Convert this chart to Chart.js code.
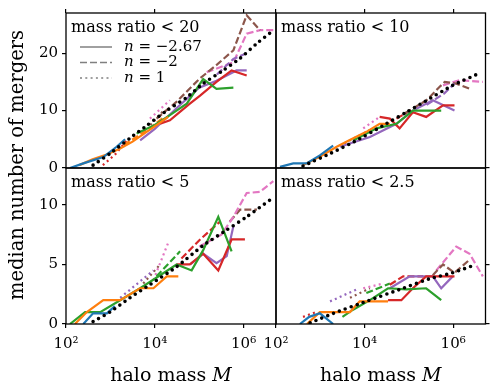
<!DOCTYPE html>
<html>
<head>
<meta charset="utf-8">
<script src="https://cdn.jsdelivr.net/npm/chart.js@4.4.0/dist/chart.umd.min.js"></script>
<style>
  body { margin: 0; background: #fff; }
  #wrap { position: relative; width: 498px; height: 389px; }
  #wrap canvas { position: absolute; left: 0; top: 0; }
</style>
</head>
<body>
<div id="wrap">
  <canvas id="c20" width="498" height="389"></canvas>
  <canvas id="c10" width="498" height="389"></canvas>
  <canvas id="c5" width="498" height="389"></canvas>
  <canvas id="c25" width="498" height="389"></canvas>
</div>
<script>
// points are [log10 halo mass, median number of mergers]

// mass ratio < 20
const r20Fit = [[2.61,0.5],[2.99,2.5],[3.44,5.2],[3.82,7.4],[4.27,10.0],[4.72,12.3],[5.09,14.7],[5.54,17.0],[5.92,19.1],[6.30,21.7],[6.66,23.9]];
const r20Blue = [[2.09,0],[2.39,0.8],[2.84,1.9],[3.14,3.7],[3.33,5.0]];
const r20Orange = [[2.3,0.5],[2.6,1.5],[2.9,2.3],[3.2,3.3],[3.5,4.6],[3.8,6.2],[4.1,7.8],[4.3,8.9]];
const r20Green = [[3.59,6.0],[4.0,7.5],[4.34,9.2],[4.72,11.2],[5.09,15.5],[5.39,13.8],[5.77,14.0]];
const r20Red = [[4.12,7.7],[4.34,8.3],[4.6,10.0],[4.79,11.2],[5.02,12.6],[5.39,15.0],[5.73,17.0],[6.07,16.1]];
const r20Purple = [[3.67,4.8],[4.0,6.8],[4.5,10.5],[5.0,14.0],[5.39,15.2],[5.84,17.0],[6.07,17.0]];
const r20PurpleDash = [[5.4,16.3],[5.77,19.0],[6.07,20.0]];
const r20BrownDash = [[4.04,8.6],[4.5,11.6],[5.0,15.5],[5.4,18.0],[5.77,20.5],[6.07,26.6],[6.37,24.0]];
const r20PinkDash = [[5.17,16.7],[5.77,18.4],[6.07,23.4],[6.37,24.0],[6.67,24.0]];
const r20OrangeDash = [[3.3,4.0],[3.9,7.0],[4.2,8.8]];
const r20PinkDot = [[3.89,8.6],[4.34,11.8]];
const r20RedDot = [[2.83,0.5],[3.1,2.3],[3.37,4.8]];
const r20BrownDot = [[3.9,7.5],[4.2,10.0]];

// mass ratio < 10
const r10Fit = [[2.61,0.35],[3.22,2.5],[3.82,4.8],[4.42,7.4],[4.94,9.7],[5.32,11.4],[5.99,14.4],[6.59,16.5]];
const r10Blue = [[2.09,0.2],[2.39,0.8],[2.69,0.8],[2.99,2.2],[3.29,3.9]];
const r10Orange = [[2.61,0.5],[3.0,2.0],[3.37,3.7],[3.7,5.0],[4.04,6.3],[4.34,7.7],[4.57,7.7]];
const r10Green = [[3.74,4.8],[4.27,6.9],[4.72,7.7],[5.09,10.0],[5.73,10.0]];
const r10Red = [[4.34,8.9],[4.57,8.6],[4.79,6.9],[5.09,9.7],[5.39,8.9],[5.77,10.9],[6.03,10.9]];
const r10Purple = [[3.44,3.7],[4.12,5.4],[4.72,7.7],[5.09,10.0],[5.54,11.8],[6.03,10.0]];
const r10PurpleDash = [[5.4,11.0],[5.8,13.0],[6.03,14.7]];
const r10BrownDash = [[4.9,9.5],[5.4,11.8],[5.69,14.1],[5.81,15.0],[6.07,14.7],[6.37,13.8]];
const r10PinkDash = [[5.77,14.4],[6.14,15.3],[6.67,15.0]];
const r10RedDash = [[4.72,8.6],[5.17,10.6]];
const r10BrownDot = [[3.44,3.9],[4.12,6.6]];
const r10PinkDot = [[3.97,6.9],[4.34,8.9]];

// mass ratio < 5
const r5Fit = [[2.61,0.2],[2.99,1.0],[3.44,2.2],[3.89,3.3],[4.49,4.8],[5.09,6.6],[5.62,7.9],[6.07,9.0],[6.59,10.4]];
const r5Blue = [[2.39,0],[2.61,0.9],[2.92,0.9],[3.1,1.5]];
const r5Orange = [[2.2,0],[2.47,1.0],[2.84,2.0],[3.22,2.0],[3.67,3.0],[3.97,3.0],[4.27,4.0],[4.53,4.0]];
const r5Green = [[2.09,0],[2.43,1.0],[2.77,1.0],[3.22,2.0],[3.67,3.0],[4.0,3.8],[4.49,5.0],[4.83,4.5],[5.09,6.2],[5.43,9.0],[5.73,6.1]];
const r5Red = [[4.49,5.0],[4.79,5.0],[5.09,5.9],[5.43,4.5],[5.73,7.1],[6.03,7.1]];
const r5Purple = [[4.8,5.0],[5.09,5.9],[5.39,5.1],[5.62,5.7],[5.77,8.2]];
const r5PinkDash = [[5.0,6.5],[5.5,7.5],[5.77,9.0],[6.07,11.0],[6.37,11.1],[6.67,12.0]];
const r5BrownDash = [[5.69,8.6],[5.92,9.6],[6.30,9.6]];
const r5GreenDash = [[4.04,4.0],[4.57,6.1]];
const r5RedDash = [[4.6,5.5],[5.02,7.1],[5.47,8.6]];
const r5PinkDot = [[3.97,3.7],[4.30,6.8]];
const r5PurpleDot = [[3.22,2.2],[3.97,4.5]];
const r5BrownDot = [[3.74,3.4],[4.12,5.0]];

// mass ratio < 2.5
const r25Fit = [[2.77,0.1],[3.37,1.0],[4.04,1.9],[4.87,3.0],[5.47,3.8],[5.99,4.3],[6.52,5.0]];
const r25Blue = [[2.54,0],[2.75,0.6],[2.99,0.9],[3.29,0]];
const r25Orange = [[2.7,0],[2.99,1.0],[3.67,1.0],[3.89,1.9],[4.53,1.9]];
const r25Green = [[3.5,0.6],[3.74,1.2],[4.12,2.0],[4.53,3.0],[4.94,2.9],[5.39,3.0],[5.73,2.0]];
const r25Red = [[4.53,2.0],[4.83,2.0],[5.09,3.0],[5.39,4.0],[6.03,4.0]];
const r25Purple = [[4.57,3.0],[5.02,4.0],[5.54,4.0],[5.73,3.0],[5.99,4.0]];
const r25RedDash = [[4.57,3.3],[4.87,4.0],[5.32,4.0]];
const r25BrownDash = [[5.54,4.1],[5.77,5.0],[6.03,4.3],[6.37,5.4]];
const r25PinkDash = [[5.62,4.5],[6.07,6.5],[6.37,5.9],[6.67,4.0]];
const r25GreenDash = [[4.04,2.6],[4.57,3.4]];
const r25PinkDot = [[3.97,3.0],[4.42,3.4]];
const r25PurpleDot = [[3.22,1.9],[3.82,2.9]];
const r25BrownDot = [[3.67,2.2],[4.12,3.0]];
const r25RedDot = [[2.61,0.6],[2.9,1.0]];

const xTickValues = [1e2, 1e4, 1e6];
const xTickLabels = ['10²', '10⁴', '10⁶'];
const yTicksTop = [0, 10, 20];
const yTicksBottom = [0, 5, 10];
const legendValues = ['−2.67', '−2', '1'];
const panelTitles = ['mass ratio < 20', 'mass ratio < 10', 'mass ratio < 5', 'mass ratio < 2.5'];

const FONT = 'DejaVu Serif';
const COLORS = {
    blue: '#1f77b4', orange: '#ff7f0e', green: '#2ca02c', red: '#d62728',
    purple: '#9467bd', brown: '#8c564b', pink: '#e377c2'
};
const DASH = { solid: [], dashed: [7, 3], dotted: [2, 3.3] };

function toPoints(arr) {
    return arr.map(p => ({ x: Math.pow(10, p[0]), y: p[1] }));
}

function makeDataset(arr, color, style) {
    if (color === 'fit') {
        return {
            data: toPoints(arr), borderColor: '#000', borderWidth: 3.6,
            borderDash: [0, 6.3], borderCapStyle: 'round',
            pointRadius: 0, tension: 0.2, fill: false
        };
    }
    return {
        data: toPoints(arr), borderColor: COLORS[color], borderWidth: 2.2,
        borderDash: DASH[style], pointRadius: 0, tension: 0, fill: false
    };
}

// draws frame, panel title, legend and axis titles
const decor = {
    id: 'decor',
    afterDraw(chart, args, opts) {
        const ctx = chart.ctx, a = chart.chartArea;
        ctx.save();
        ctx.strokeStyle = '#000';
        ctx.lineWidth = 1.3;
        ctx.setLineDash([]);
        ctx.strokeRect(a.left, a.top, a.right - a.left, a.bottom - a.top);

        ctx.fillStyle = '#000';
        ctx.textBaseline = 'alphabetic';
        ctx.textAlign = 'left';
        ctx.font = '16px "' + FONT + '"';
        ctx.fillText(opts.title, a.left + 5, a.top + 19);

        if (opts.legend) {
            const styles = ['solid', 'dashed', 'dotted'];
            styles.forEach((st, i) => {
                const y = a.top + 34 + i * 15.5;
                ctx.strokeStyle = '#808080';
                ctx.lineWidth = 1.5;
                ctx.setLineDash(DASH[st]);
                ctx.beginPath();
                ctx.moveTo(a.left + 14, y);
                ctx.lineTo(a.left + 46, y);
                ctx.stroke();
                ctx.textBaseline = 'middle';
                ctx.font = 'italic 15px "' + FONT + '"';
                ctx.fillText('n', a.left + 58, y);
                const w = ctx.measureText('n').width;
                ctx.font = '15px "' + FONT + '"';
                ctx.fillText(' = ' + legendValues[i], a.left + 58 + w, y);
            });
            ctx.setLineDash([]);
        }

        if (opts.xlabel) {
            ctx.textBaseline = 'alphabetic';
            ctx.font = '19px "' + FONT + '"';
            const w1 = ctx.measureText('halo mass ').width;
            ctx.font = 'italic 19px "' + FONT + '"';
            const w2 = ctx.measureText('M').width;
            const x0 = (a.left + a.right) / 2 - (w1 + w2) / 2;
            ctx.font = '19px "' + FONT + '"';
            ctx.fillText('halo mass ', x0, 381);
            ctx.font = 'italic 19px "' + FONT + '"';
            ctx.fillText('M', x0 + w1, 381);
        }

        if (opts.ylabel) {
            ctx.translate(18, 165);
            ctx.rotate(-Math.PI / 2);
            ctx.textAlign = 'center';
            ctx.textBaseline = 'middle';
            ctx.font = '19.5px "' + FONT + '"';
            ctx.fillText('median number of mergers', 0, 0);
        }
        ctx.restore();
    }
};

// scale boxes get fixed sizes so all four plot areas line up;
// labelled axes keep a real box because Chart.js clips labels to it
function makeChart(id, row, col, lines) {
    const yBox = col === 0 ? 66 : 0;
    const xBox = row === 1 ? 65 : 0;
    const pad = {
        left: col === 0 ? 0 : 276,
        right: col === 0 ? 222 : 12.5,
        top: row === 0 ? 13 : 168,
        bottom: row === 0 ? 221 : 0
    };
    const yTicks = row === 0 ? yTicksTop : yTicksBottom;
    return new Chart(document.getElementById(id), {
        type: 'line',
        data: { datasets: lines.map(l => makeDataset(l[0], l[1], l[2])) },
        options: {
            responsive: false,
            animation: false,
            layout: { padding: pad },
            plugins: {
                legend: { display: false },
                tooltip: { enabled: false },
                decor: {
                    title: panelTitles[row * 2 + col],
                    legend: row === 0 && col === 0,
                    xlabel: row === 1,
                    ylabel: row === 1 && col === 0
                }
            },
            scales: {
                x: {
                    type: 'logarithmic',
                    min: 100,
                    max: Math.pow(10, 6.73),
                    position: row === 0 ? 'top' : 'bottom',
                    afterBuildTicks: s => { s.ticks = xTickValues.map(v => ({ value: v })); },
                    afterFit: s => { s.height = xBox; },
                    ticks: {
                        display: row === 1,
                        autoSkip: false, maxRotation: 0, minRotation: 0,
                        padding: 7, color: '#000',
                        font: { family: FONT, size: 15 },
                        callback: v => xTickLabels[xTickValues.indexOf(v)]
                    },
                    grid: { drawOnChartArea: false, drawTicks: true, tickLength: 4, color: '#000', lineWidth: 1.2 },
                    border: { display: false }
                },
                y: {
                    type: 'linear',
                    min: 0,
                    max: row === 0 ? 27 : 13.1,
                    position: col === 0 ? 'left' : 'right',
                    afterBuildTicks: s => { s.ticks = yTicks.map(v => ({ value: v })); },
                    afterFit: s => { s.width = yBox; },
                    ticks: {
                        display: col === 0,
                        padding: 4, color: '#000',
                        font: { family: FONT, size: 15 }
                    },
                    grid: { drawOnChartArea: false, drawTicks: true, tickLength: 4, color: '#000', lineWidth: 1.2 },
                    border: { display: false }
                }
            }
        },
        plugins: [decor]
    });
}

makeChart('c20', 0, 0, [
    [r20Fit, 'fit'],
    [r20Blue, 'blue', 'solid'], [r20Orange, 'orange', 'solid'], [r20Green, 'green', 'solid'],
    [r20Red, 'red', 'solid'], [r20Purple, 'purple', 'solid'],
    [r20PurpleDash, 'purple', 'dashed'], [r20BrownDash, 'brown', 'dashed'],
    [r20PinkDash, 'pink', 'dashed'], [r20OrangeDash, 'orange', 'dashed'],
    [r20PinkDot, 'pink', 'dotted'], [r20RedDot, 'red', 'dotted'], [r20BrownDot, 'brown', 'dotted']
]);

makeChart('c10', 0, 1, [
    [r10Fit, 'fit'],
    [r10Blue, 'blue', 'solid'], [r10Orange, 'orange', 'solid'], [r10Green, 'green', 'solid'],
    [r10Red, 'red', 'solid'], [r10Purple, 'purple', 'solid'],
    [r10PurpleDash, 'purple', 'dashed'], [r10BrownDash, 'brown', 'dashed'],
    [r10PinkDash, 'pink', 'dashed'], [r10RedDash, 'red', 'dashed'],
    [r10BrownDot, 'brown', 'dotted'], [r10PinkDot, 'pink', 'dotted']
]);

makeChart('c5', 1, 0, [
    [r5Fit, 'fit'],
    [r5Blue, 'blue', 'solid'], [r5Orange, 'orange', 'solid'], [r5Green, 'green', 'solid'],
    [r5Red, 'red', 'solid'], [r5Purple, 'purple', 'solid'],
    [r5PinkDash, 'pink', 'dashed'], [r5BrownDash, 'brown', 'dashed'],
    [r5GreenDash, 'green', 'dashed'], [r5RedDash, 'red', 'dashed'],
    [r5PinkDot, 'pink', 'dotted'], [r5PurpleDot, 'purple', 'dotted'], [r5BrownDot, 'brown', 'dotted']
]);

makeChart('c25', 1, 1, [
    [r25Fit, 'fit'],
    [r25Blue, 'blue', 'solid'], [r25Orange, 'orange', 'solid'], [r25Green, 'green', 'solid'],
    [r25Red, 'red', 'solid'], [r25Purple, 'purple', 'solid'],
    [r25RedDash, 'red', 'dashed'], [r25BrownDash, 'brown', 'dashed'],
    [r25PinkDash, 'pink', 'dashed'], [r25GreenDash, 'green', 'dashed'],
    [r25PinkDot, 'pink', 'dotted'], [r25PurpleDot, 'purple', 'dotted'],
    [r25BrownDot, 'brown', 'dotted'], [r25RedDot, 'red', 'dotted']
]);
</script>
</body>
</html>
